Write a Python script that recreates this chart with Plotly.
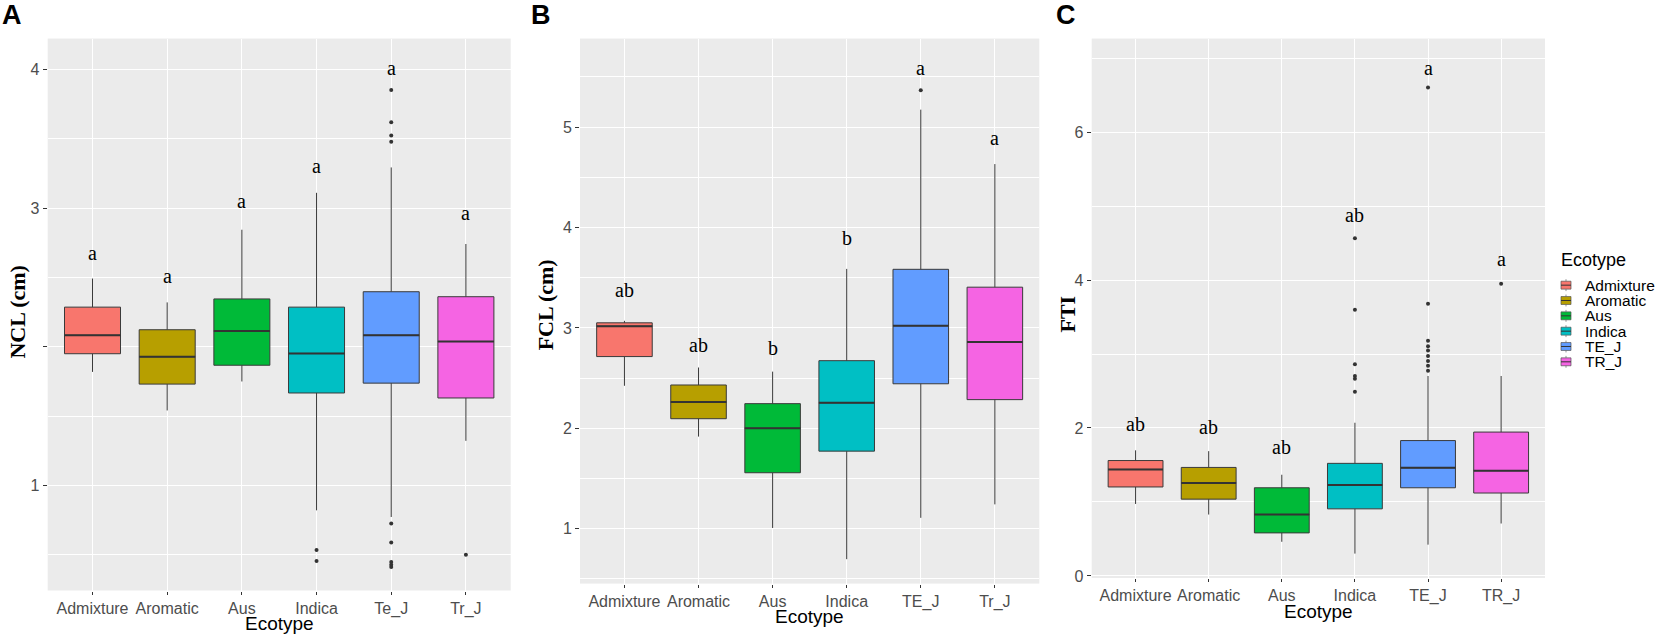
import plotly.graph_objects as go

W, H = 1664, 644

# ---------------- data ----------------
COLORS = ["#F8766D", "#B79F00", "#00BA38", "#00BFC4", "#619CFF", "#F564E3"]
LEGEND_LABELS = ["Admixture", "Aromatic", "Aus", "Indica", "TE_J", "TR_J"]

# Panel A : NCL (cm)
CATS_A = ["Admixture", "Aromatic", "Aus", "Indica", "Te_J", "Tr_J"]
NCL_Q1 = [1.951, 1.732, 1.868, 1.668, 1.739, 1.632]
NCL_MED = [2.084, 1.929, 2.115, 1.953, 2.084, 2.039]
NCL_Q3 = [2.287, 2.124, 2.346, 2.287, 2.398, 2.362]
NCL_LO = [1.820, 1.542, 1.751, 0.822, 0.774, 1.323]
NCL_HI = [2.493, 2.321, 2.845, 3.111, 3.294, 2.742]
NCL_OUT = [[], [], [], [0.536, 0.456],
           [3.852, 3.619, 3.524, 3.479, 0.727, 0.591, 0.449, 0.430, 0.413],
           [0.501]]
NCL_LET = ["a", "a", "a", "a", "a", "a"]
NCL_LET_Y = [2.661, 2.500, 3.039, 3.289, 3.997, 2.952]
NCL_TICKS = [1, 2, 3, 4]
NCL_TICKTEXT = ["1", "", "3", "4"]
NCL_MINOR = [0.5, 1.5, 2.5, 3.5]

# Panel B : FCL (cm)
CATS_B = ["Admixture", "Aromatic", "Aus", "Indica", "TE_J", "Tr_J"]
FCL_Q1 = [2.715, 2.096, 1.558, 1.773, 2.444, 2.286]
FCL_MED = [3.018, 2.262, 2.001, 2.254, 3.022, 2.860]
FCL_Q3 = [3.051, 2.432, 2.246, 2.674, 3.584, 3.406]
FCL_LO = [2.424, 1.918, 1.008, 0.697, 1.109, 1.243]
FCL_HI = [3.071, 2.606, 2.565, 3.588, 5.174, 4.632]
FCL_OUT = [[], [], [], [], [5.368], []]
FCL_LET = ["ab", "ab", "b", "b", "a", "a"]
FCL_LET_Y = [3.354, 2.808, 2.780, 3.880, 5.570, 4.871]
FCL_TICKS = [1, 2, 3, 4, 5]
FCL_TICKTEXT = ["1", "2", "3", "4", "5"]
FCL_MINOR = [0.5, 1.5, 2.5, 3.5, 4.5, 5.5]

# Panel C : FTI
CATS_C = ["Admixture", "Aromatic", "Aus", "Indica", "TE_J", "TR_J"]
FTI_Q1 = [1.203, 1.038, 0.582, 0.907, 1.192, 1.121]
FTI_MED = [1.440, 1.258, 0.830, 1.231, 1.462, 1.423]
FTI_Q3 = [1.560, 1.467, 1.192, 1.522, 1.830, 1.945]
FTI_LO = [0.973, 0.830, 0.462, 0.302, 0.423, 0.709]
FTI_HI = [1.698, 1.687, 1.368, 2.071, 2.703, 2.703]
FTI_OUT = [[], [], [], [4.566, 3.599, 2.863, 2.703, 2.665, 2.489],
           [6.604, 3.681, 3.181, 3.104, 3.049, 2.973, 2.907, 2.841, 2.775],
           [3.951]]
FTI_LET = ["ab", "ab", "ab", "ab", "a", "a"]
FTI_LET_Y = [2.033, 1.989, 1.714, 4.857, 6.841, 4.253]
FTI_TICKS = [0, 2, 4, 6]
FTI_TICKTEXT = ["0", "2", "4", "6"]
FTI_MINOR = [1, 3, 5, 7]

# ---------------- layout geometry (pixels) ----------------
panels = [
    dict(key="", cats=CATS_A, q1=NCL_Q1, med=NCL_MED, q3=NCL_Q3, lo=NCL_LO, hi=NCL_HI,
         out=NCL_OUT, let=NCL_LET, lety=NCL_LET_Y, ticks=NCL_TICKS, ticktext=NCL_TICKTEXT,
         minor=NCL_MINOR, yrange=[0.244, 4.223], px=[47.7, 510.7], py=[39, 597],
         title="NCL (cm)", title_xy=(18, 316), xt_xy=(279.2, 630.5), tag="A", tag_x=0),
    dict(key="2", cats=CATS_B, q1=FCL_Q1, med=FCL_MED, q3=FCL_Q3, lo=FCL_LO, hi=FCL_HI,
         out=FCL_OUT, let=FCL_LET, lety=FCL_LET_Y, ticks=FCL_TICKS, ticktext=FCL_TICKTEXT,
         minor=FCL_MINOR, yrange=[0.454, 5.882], px=[580, 1039.3], py=[39, 590],
         title="FCL (cm)", title_xy=(545.7, 308), xt_xy=(809.6, 623.5), tag="B", tag_x=528.6),
    dict(key="3", cats=CATS_C, q1=FTI_Q1, med=FTI_MED, q3=FTI_Q3, lo=FTI_LO, hi=FTI_HI,
         out=FTI_OUT, let=FTI_LET, lety=FTI_LET_Y, ticks=FTI_TICKS, ticktext=FTI_TICKTEXT,
         minor=FTI_MINOR, yrange=[-0.027, 7.264], px=[1091.7, 1545], py=[39, 584.3],
         title="FTI", title_xy=(1068, 318), xt_xy=(1318.3, 618), tag="C", tag_x=1054),
]

SANS = "Liberation Sans, Arial, sans-serif"
SERIF = "Liberation Serif, Times New Roman, serif"

fig = go.Figure()
shapes = []
annotations = []
layout_axes = {}

for p in panels:
    k = p["key"]
    xa, ya = "x" + k, "y" + k
    for i, cat in enumerate(p["cats"]):
        fig.add_trace(go.Box(
            x=[i], q1=[p["q1"][i]], median=[p["med"][i]], q3=[p["q3"][i]],
            lowerfence=[p["lo"][i]], upperfence=[p["hi"][i]],
            width=0.75, whiskerwidth=0, boxpoints=False,
            fillcolor=COLORS[i], line=dict(color="#3a3a3a", width=1),
            xaxis=xa, yaxis=ya, showlegend=False, hoverinfo="skip", name=cat))
        # thicker median line (ggplot style)
        shapes.append(dict(type="line", xref=xa, yref=ya,
                           x0=i - 0.375, x1=i + 0.375, y0=p["med"][i], y1=p["med"][i],
                           line=dict(color="#333333", width=2)))
        if p["out"][i]:
            fig.add_trace(go.Scatter(
                x=[i] * len(p["out"][i]), y=p["out"][i], mode="markers",
                marker=dict(size=4, color="#333333"),
                xaxis=xa, yaxis=ya, showlegend=False, hoverinfo="skip"))
        annotations.append(dict(x=i, y=p["lety"][i], xref=xa, yref=ya, text=p["let"][i],
                                showarrow=False, yshift=2,
                                font=dict(family=SERIF, size=20, color="black")))
    xdom = [p["px"][0] / W, p["px"][1] / W]
    ydom = [1 - p["py"][1] / H, 1 - p["py"][0] / H]
    layout_axes["xaxis" + k] = dict(
        domain=xdom, anchor=ya, range=[-0.6, len(p["cats"]) - 0.4],
        tickvals=list(range(len(p["cats"]))), ticktext=p["cats"],
        showgrid=True, gridcolor="white", gridwidth=1, zeroline=False, showline=False,
        ticks="outside", ticklen=3, tickcolor="#333333", tickwidth=1,
        tickfont=dict(family=SANS, size=16, color="#4D4D4D"), fixedrange=True)
    layout_axes["yaxis" + k] = dict(
        domain=ydom, anchor=xa, range=p["yrange"],
        tickvals=p["ticks"], ticktext=p["ticktext"],
        showgrid=True, gridcolor="white", gridwidth=1, zeroline=False, showline=False,
        ticks="outside", ticklen=4, tickcolor="#333333", tickwidth=1,
        tickfont=dict(family=SANS, size=16, color="#4D4D4D"),
        minor=dict(tickvals=p["minor"], showgrid=True, gridcolor="white", gridwidth=0.5, ticks=""),
        fixedrange=True)
    # axis titles
    tx, ty = p["title_xy"]
    annotations.append(dict(x=tx / W, y=1 - ty / H, xref="paper", yref="paper", text="<b>%s</b>" % p["title"],
                            textangle=-90, showarrow=False, xanchor="center", yanchor="middle",
                            font=dict(family=SERIF, size=22, color="black")))
    ex, ey = p["xt_xy"]
    annotations.append(dict(x=ex / W, y=1 - ey / H, xref="paper", yref="paper", text="Ecotype",
                            showarrow=False, xanchor="center", yanchor="middle",
                            font=dict(family=SANS, size=19, color="black")))
    # panel tag
    annotations.append(dict(x=p["tag_x"] / W, y=1 - 15 / H, xref="paper", yref="paper",
                            text="<b>%s</b>" % p["tag"], showarrow=False,
                            xanchor="left", yanchor="middle",
                            font=dict(family=SANS, size=27, color="black")))

# ---------------- manual ggplot-style legend ----------------
annotations.append(dict(x=1559 / W, y=1 - 262.7 / H, xref="paper", yref="paper", text="Ecotype",
                        showarrow=False, xanchor="left", yanchor="middle",
                        font=dict(family=SANS, size=18, color="black")))
for i, lab in enumerate(LEGEND_LABELS):
    cy = 288.3 + 15.5 * i
    kx0, kx1 = 1561, 1571
    shapes.append(dict(type="rect", xref="paper", yref="paper",
                       x0=kx0 / W, x1=kx1 / W, y0=1 - (cy + 4) / H, y1=1 - (cy - 4) / H,
                       fillcolor=COLORS[i], line=dict(color="#555555", width=0.7)))
    shapes.append(dict(type="line", xref="paper", yref="paper",
                       x0=kx0 / W, x1=kx1 / W, y0=1 - cy / H, y1=1 - cy / H,
                       line=dict(color="#333333", width=1)))
    for a, b in [(cy - 6, cy - 4), (cy + 4, cy + 6)]:
        shapes.append(dict(type="line", xref="paper", yref="paper",
                           x0=(kx0 + kx1) / 2 / W, x1=(kx0 + kx1) / 2 / W,
                           y0=1 - a / H, y1=1 - b / H,
                           line=dict(color="#666666", width=0.7)))
    annotations.append(dict(x=1582.7 / W, y=1 - cy / H, xref="paper", yref="paper", text=lab,
                            showarrow=False, xanchor="left", yanchor="middle",
                            font=dict(family=SANS, size=15.5, color="black")))

fig.update_layout(
    width=W, height=H, autosize=False,
    margin=dict(l=0, r=0, t=0, b=0),
    paper_bgcolor="white", plot_bgcolor="#EBEBEB",
    boxmode="overlay", showlegend=False,
    shapes=shapes, annotations=annotations,
    **layout_axes)

fig.write_html(
    "out.html",
    config={"displayModeBar": False},
    post_script="document.body.style.margin='0';document.body.style.padding='0';"
                "document.body.style.overflow='hidden';",
)
